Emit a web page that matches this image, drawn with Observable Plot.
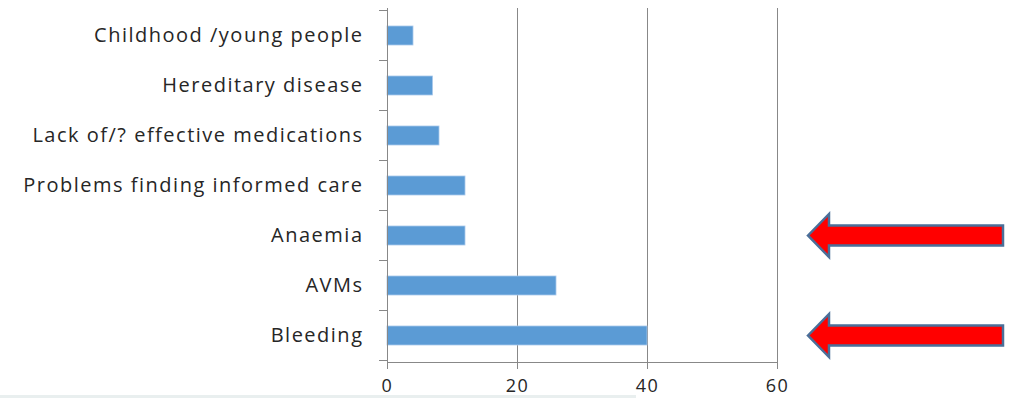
<!DOCTYPE html>
<html><head><meta charset="utf-8">
<script src="https://cdn.jsdelivr.net/npm/d3@7"></script>
<script src="https://cdn.jsdelivr.net/npm/@observablehq/plot@0.6"></script>
<style>
body{margin:0;background:#fff;position:relative;overflow:hidden;}
#strip{position:absolute;left:0;top:395px;width:636px;height:3px;background:#e9efef;}
</style></head>
<body><div id="chart"></div><div id="strip"></div>
<script>
const categories = ["Childhood /young people","Hereditary disease","Lack of/? effective medications","Problems finding informed care","Anaemia","AVMs","Bleeding"];
const values = [4, 7, 8, 12, 12, 26, 40];
const xTicks = [0, 20, 40, 60];
const highlighted = ["Anaemia", "Bleeding"];

const data = categories.map((c, i) => ({category: c, value: values[i]}));

function decorations(index, scales, vals, dimensions) {
  const {x, y} = scales;
  const n = categories.length;
  const step = y.step ? y.step() : (dimensions.height - dimensions.marginTop - dimensions.marginBottom) / n;
  const bw = y.bandwidth ? y.bandwidth() : step * 0.38;
  const g = d3.create("svg:g");
  const x0 = x(0);
  // category boundary ticks on the y axis
  const bounds = categories.map(c => y(c) + bw / 2 - step / 2);
  bounds.push(y(categories[n - 1]) + bw / 2 + step / 2);
  g.selectAll("line.b").data(bounds).join("line")
    .attr("x1", x0 - 8).attr("x2", x0).attr("y1", d => d).attr("y2", d => d)
    .attr("stroke", "#888").attr("stroke-width", 1);
  // red block arrows pointing at highlighted categories
  const tip = x(xTicks[xTicks.length - 1]) + 31;
  const headLen = 21, shaftH = 10, headH = 21.5;
  const tail = dimensions.width - 9;
  highlighted.forEach(c => {
    const cy = y(c) + bw / 2;
    const p = [
      [tip, cy], [tip + headLen, cy - headH], [tip + headLen, cy - shaftH],
      [tail, cy - shaftH], [tail, cy + shaftH], [tip + headLen, cy + shaftH],
      [tip + headLen, cy + headH]
    ];
    g.append("path").attr("d", "M" + p.map(q => q.join(",")).join("L") + "Z")
      .attr("fill", "#ff0000").attr("stroke", "#4a6f99").attr("stroke-width", 2.5)
      .attr("stroke-linejoin", "miter");
  });
  return g.node();
}

const chart = Plot.plot({
  width: 1012,
  height: 398,
  marginLeft: 387,
  marginRight: 235,
  marginTop: 8,
  marginBottom: 36,
  style: {fontFamily: "'Open Sans', sans-serif", fontSize: "20px", color: "#262626", background: "#fff", letterSpacing: "1.5px"},
  x: {domain: [0, 60], label: null},
  y: {domain: categories, paddingInner: 0.62, paddingOuter: 0.31, label: null},
  marks: [
    Plot.gridX(xTicks.slice(1), {stroke: "#888", strokeOpacity: 1, strokeWidth: 1}),
    Plot.barX(data, {y: "category", x: "value", fill: "#5b9bd5", stroke: "#a9c9ec", strokeWidth: 0.8}),
    Plot.ruleX([0], {stroke: "#888"}),
    Plot.frame({anchor: "bottom", stroke: "#888"}),
    Plot.axisX(xTicks, {tickSize: 7, tickPadding: 10, stroke: "#888", fill: "#262626", fontSize: 18}),
    Plot.axisY({tickSize: 0, tickPadding: 24, fill: "#262626", fontSize: 20}),
    decorations
  ]
});
document.getElementById("chart").append(chart);
</script>
</body></html>
